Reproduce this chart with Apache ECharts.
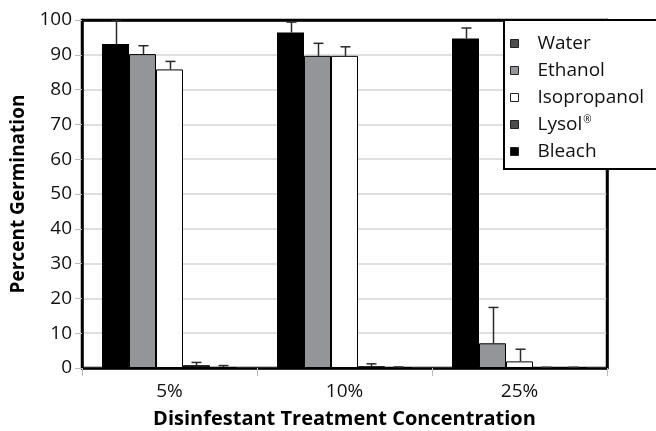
<!DOCTYPE html>
<html lang="en">
<head>
  <meta charset="UTF-8">
  <title>Percent Germination</title>
  <script src="https://cdn.jsdelivr.net/npm/echarts@6/dist/echarts.min.js"></script>
  <style>
    html, body { margin: 0; padding: 0; background: #fff; }
  </style>
</head>
<body>
  <div id="main" style="width: 656px;height:431px;"></div>
  <script>
    var myChart = echarts.init(document.getElementById('main'));

    // 数据
    var categories = ['5%', '10%', '25%'];
    var seriesNames = ['Water', 'Ethanol', 'Isopropanol', 'Lysol®', 'Bleach'];
    var water = [93.1, 96.4, 94.7];
    var ethanol = [90.2, 89.7, 7.1];
    var isopropanol = [85.8, 89.7, 1.9];
    var lysol = [0.8, 0.5, 0.1];
    var bleach = [0.3, 0.1, 0.1];
    // 误差线上端
    var waterErr = [100, 99.4, 97.7];
    var ethanolErr = [92.6, 93.3, 17.4];
    var isopropanolErr = [88.1, 92.3, 5.4];
    var lysolErr = [1.6, 1.2, 0.2];
    var bleachErr = [0.7, 0.3, 0.2];
    var yTicks = [0, 10, 20, 30, 40, 50, 60, 70, 80, 90, 100];

    var values = [water, ethanol, isopropanol, lysol, bleach];
    var errs = [waterErr, ethanolErr, isopropanolErr, lysolErr, bleachErr];
    var barColors = ['#000000', '#939598', '#ffffff', '#231f20', '#231f20'];
    var legendColors = ['#4d4d4d', '#939598', '#ffffff', '#4d4d4d', '#000000'];
    var gapPct = 22.86;
    var font = 'Open Sans';

    var series = [];
    values.forEach(function (v, i) {
      series.push({
        name: seriesNames[i],
        type: 'bar',
        data: v,
        barGap: '0%',
        barCategoryGap: gapPct + '%',
        itemStyle: { color: barColors[i], borderColor: '#000', borderWidth: i === 0 ? 0 : 1 }
      });
    });

    // 误差线
    errs.forEach(function (e, i) {
      series.push({
        type: 'custom',
        clip: true,
        silent: true,
        z: 5,
        data: e.map(function (top, k) { return [k, values[i][k], top]; }),
        renderItem: function (params, api) {
          var band = api.size([1, 0])[0];
          var bw = band * (1 - gapPct / 100) / 5;
          var base = api.coord([api.value(0), api.value(1)]);
          var top = api.coord([api.value(0), api.value(2)]);
          var x = Math.round(base[0] + (i - 2) * bw) + 0.5;
          var style = { stroke: '#2a2a2a', lineWidth: 1.5 };
          return {
            type: 'group',
            children: [
              { type: 'line', shape: { x1: x, y1: base[1], x2: x, y2: top[1] }, style: style },
              { type: 'line', shape: { x1: x - 5, y1: top[1], x2: x + 5, y2: top[1] }, style: style }
            ]
          };
        }
      });
    });

    var option = {
      animation: false,
      backgroundColor: '#fff',
      grid: {
        left: 82, right: 49, top: 20, bottom: 63,
        outerBoundsMode: 'none',
        containLabel: false,
        show: true, borderColor: '#000', borderWidth: 2.5, backgroundColor: 'transparent'
      },
      legend: {
        orient: 'vertical',
        left: 504, top: 20, width: 160,
        padding: [14, 60, 8, 6],
        backgroundColor: '#fff',
        borderColor: '#000',
        borderWidth: 2,
        itemWidth: 8, itemHeight: 8,
        itemGap: 8,
        icon: 'rect',
        formatter: function (name) {
          if (name === 'Lysol®') return '{t|Lysol}{s|®}';
          return '{t|' + name + '}';
        },
        textStyle: {
          fontFamily: font, fontSize: 19, color: '#111', padding: [0, 0, 0, 14],
          rich: {
            t: { fontFamily: font, fontSize: 19, color: '#111' },
            s: { fontFamily: font, fontSize: 10, color: '#111', verticalAlign: 'top', padding: [0, 0, 8, 1] }
          }
        },
        data: seriesNames.map(function (n, i) {
          return { name: n, itemStyle: { color: legendColors[i], borderColor: '#222', borderWidth: 1 } };
        }),
        z: 10
      },
      xAxis: [{
        type: 'category',
        data: categories,
        name: 'Disinfestant Treatment Concentration',
        nameLocation: 'middle',
        nameGap: 41,
        nameTextStyle: { fontFamily: font, fontSize: 20, fontWeight: 'bold', color: '#000' },
        axisLine: { lineStyle: { color: '#000', width: 2.5 } },
        axisTick: { show: true, length: 8, lineStyle: { color: '#bbb' } },
        axisLabel: { fontFamily: font, fontSize: 19, color: '#111', margin: 14 }
      }, {
        type: 'category',
        data: categories,
        position: 'top',
        axisLine: { show: true, onZero: false, lineStyle: { color: '#000', width: 2.5 } },
        axisTick: { show: false },
        axisLabel: { show: false }
      }],
      yAxis: [{
        type: 'value',
        min: yTicks[0], max: yTicks[yTicks.length - 1], interval: 10,
        name: 'Percent Germination',
        nameLocation: 'middle',
        nameGap: 45,
        nameTextStyle: { fontFamily: font, fontSize: 19, fontWeight: 'bold', color: '#000' },
        axisLine: { show: true, lineStyle: { color: '#000', width: 2.5 } },
        axisTick: { show: true, length: 7, lineStyle: { color: '#bbb' } },
        axisLabel: { fontFamily: font, fontSize: 19, color: '#111', margin: 10 },
        splitLine: { showMaxLine: false, lineStyle: { color: '#d4d4d4', width: 1.5 } }
      }, {
        type: 'value',
        min: yTicks[0], max: yTicks[yTicks.length - 1], interval: 10,
        position: 'right',
        axisLine: { show: true, onZero: false, lineStyle: { color: '#000', width: 2.5 } },
        axisTick: { show: false },
        axisLabel: { show: false },
        splitLine: { show: false }
      }],
      series: series
    };
    myChart.setOption(option);
  </script>
</body>
</html>
